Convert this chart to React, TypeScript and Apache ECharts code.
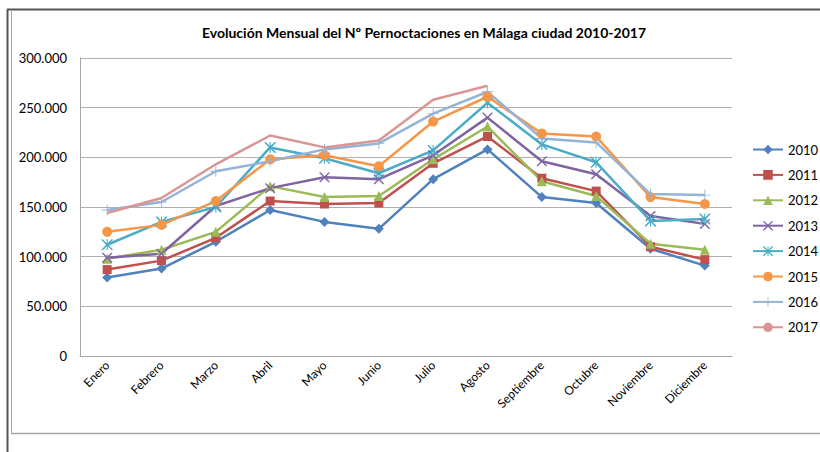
import React, { useEffect, useRef } from "react";
import * as echarts from "echarts";

const months = ["Enero", "Febrero", "Marzo", "Abril", "Mayo", "Junio", "Julio", "Agosto", "Septiembre", "Octubre", "Noviembre", "Diciembre"];
const years = ["2010", "2011", "2012", "2013", "2014", "2015", "2016", "2017"];

const y2010 = [79000, 88000, 115000, 147000, 135000, 128000, 178000, 208000, 160000, 154000, 108000, 91000];
const y2011 = [87000, 96000, 119000, 156000, 153000, 154000, 194000, 221000, 179000, 166000, 110000, 97000];
const y2012 = [98000, 107000, 125000, 171000, 160000, 161000, 198000, 231000, 176000, 161000, 113000, 107000];
const y2013 = [99000, 103000, 151000, 169000, 180000, 178000, 202000, 240000, 196000, 183000, 141000, 133000];
const y2014 = [112000, 135000, 150000, 210000, 199000, 184000, 207000, 255000, 213000, 195000, 136000, 138000];
const y2015 = [125000, 132000, 156000, 198000, 202000, 191000, 236000, 261000, 224000, 221000, 160000, 153000];
const y2016 = [147000, 155000, 186000, 196000, 208000, 214000, 244000, 266000, 219000, 215000, 163000, 162000];
const y2017 = [144000, 159000, 193000, 222000, 210000, 217000, 258000, 272000];

const yTicks = { min: 0, max: 300000, interval: 50000 };

const X_PATH = "path://M0,0 L2,0 L10,8 L18,0 L20,0 L20,2 L12,10 L20,18 L20,20 L18,20 L10,12 L2,20 L0,20 L0,18 L8,10 L0,2 Z";
const PLUS_PATH = "path://M9.2,0 H10.8 V9.2 H20 V10.8 H10.8 V20 H9.2 V10.8 H0 V9.2 H9.2 Z";
const AST_PATH = "path://M0,0 L2,0 L10,8 L18,0 L20,0 L20,2 L12,10 L20,18 L20,20 L18,20 L10,12 L2,20 L0,20 L0,18 L8,10 L0,2 Z M9,0 H11 V20 H9 Z";

const seriesDefs = [
  { name: "2010", data: y2010, color: "#4F81BD", symbol: "diamond", size: 10 },
  { name: "2011", data: y2011, color: "#C0504D", symbol: "rect", size: 9 },
  { name: "2012", data: y2012, color: "#9BBB59", symbol: "triangle", size: 10 },
  { name: "2013", data: y2013, color: "#8064A2", symbol: X_PATH, size: 10 },
  { name: "2014", data: y2014, color: "#4BACC6", symbol: AST_PATH, size: 11 },
  { name: "2015", data: y2015, color: "#F79646", symbol: "circle", size: 10 },
  { name: "2016", data: y2016, color: "#95B3D7", symbol: PLUS_PATH, size: 11 },
  { name: "2017", data: y2017, color: "#D99694", symbol: "none", size: 0 },
];

const fmt = (v: number) => String(v).replace(/\B(?=(\d{3})+(?!\d))/g, ".");

export default function App() {
  const ref = useRef<HTMLDivElement>(null);
  useEffect(() => {
    if (!ref.current) return;
    const chart = echarts.init(ref.current, null, { renderer: "svg" });
    const font = "Lato, 'Open Sans', sans-serif";
    chart.setOption({
      animation: false,
      backgroundColor: "#ffffff",
      textStyle: { fontFamily: font },
      title: {
        text: "Evolución Mensual del Nº Pernoctaciones en Málaga ciudad 2010-2017",
        left: 419,
        top: 20,
        textAlign: "center",
        textStyle: { fontFamily: font, fontSize: 14, fontWeight: "bold", color: "#000" },
      },
      graphic: [
        { type: "line", shape: { x1: 7.5, y1: 9.5, x2: 7.5, y2: 452 }, style: { stroke: "#555", lineWidth: 2 } },
        { type: "line", shape: { x1: 7, y1: 9.5, x2: 820, y2: 9.5 }, style: { stroke: "#555", lineWidth: 2 } },
        { type: "line", shape: { x1: 11.5, y1: 11, x2: 11.5, y2: 433.5 }, style: { stroke: "#a6a6a6", lineWidth: 1 } },
        { type: "line", shape: { x1: 11, y1: 433.5, x2: 820, y2: 433.5 }, style: { stroke: "#a6a6a6", lineWidth: 1.5 } },
      ],
      legend: {
        orient: "vertical",
        left: 752,
        top: 143,
        padding: 0,
        itemWidth: 30,
        itemHeight: 12,
        itemGap: 12.4,
        textStyle: { fontFamily: font, fontSize: 13, color: "#000" },
        data: years,
      },
      grid: { left: 80, right: 88, top: 58, bottom: 96, containLabel: false },
      xAxis: {
        type: "category",
        data: months,
        boundaryGap: true,
        axisLine: { show: true, lineStyle: { color: "#a6a6a6", width: 1 } },
        axisTick: { show: false },
        axisLabel: { rotate: 45, fontSize: 12, color: "#000", fontFamily: font, margin: 7, interval: 0 },
      },
      yAxis: {
        type: "value",
        min: yTicks.min,
        max: yTicks.max,
        interval: yTicks.interval,
        axisLine: { show: true, lineStyle: { color: "#a6a6a6", width: 1 } },
        axisTick: { show: false },
        splitLine: { show: true, lineStyle: { color: "#b0b0b0", width: 1 } },
        axisLabel: { fontSize: 13, color: "#000", fontFamily: font, margin: 13, formatter: fmt },
      },
      series: seriesDefs.map((s) => ({
        name: s.name,
        type: "line",
        data: s.data,
        color: s.color,
        symbol: s.symbol,
        symbolSize: s.size,
        showSymbol: s.symbol !== "none",
        lineStyle: { color: s.color, width: 2.5 },
        itemStyle: { color: s.color, borderWidth: 0 },
        emphasis: { disabled: true },
      })),
    });
    return () => chart.dispose();
  }, []);
  return <div ref={ref} style={{ position: "fixed", left: 0, top: 0, width: 820, height: 452 }} />;
}
